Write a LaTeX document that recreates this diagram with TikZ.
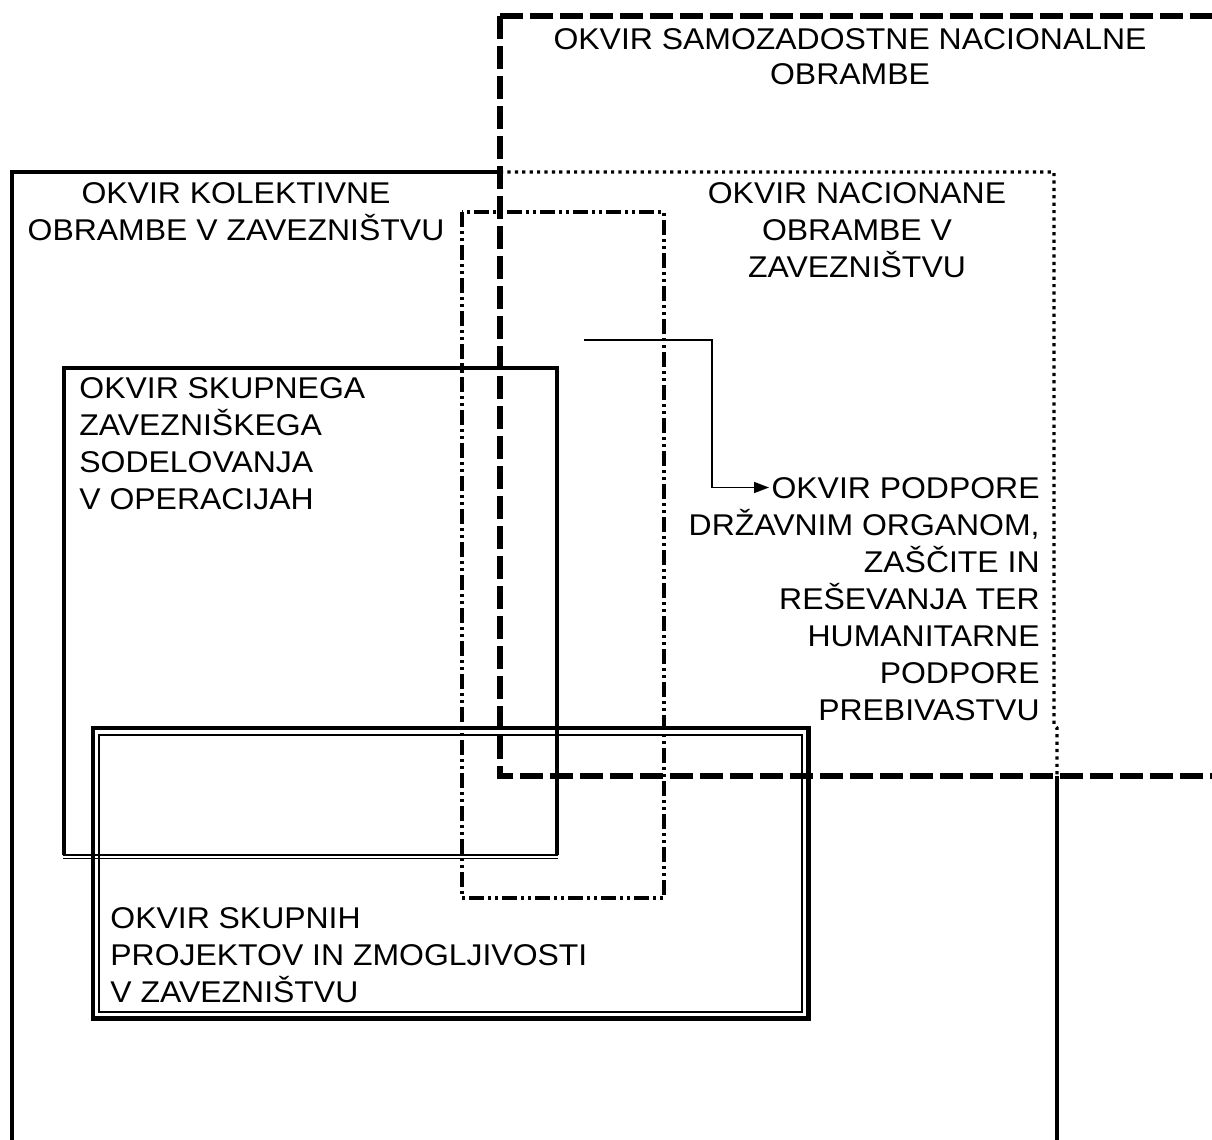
\documentclass[tikz,border=0pt]{standalone}
\usepackage{fontspec}
\setmainfont{Liberation Sans}[FakeStretch=1.065]
\usetikzlibrary{arrows.meta}
\begin{document}
\begin{tikzpicture}[x=0.5pt,y=-0.5pt,
  selfframe/.style={line width=3pt, dash pattern=on 11.5pt off 3.5pt},
  collframe/.style={line width=2.1pt},
  natframe/.style={line width=1.7pt, dash pattern=on 1.6pt off 2.1pt},
  jointframe/.style={line width=1.7pt,
    dash pattern=on 7.5pt off 2pt on 1.5pt off 2pt on 1.5pt off 2pt},
  opsframe/.style={line width=2.1pt},
  projouter/.style={line width=2.1pt},
  projinner/.style={line width=1pt},
  link/.style={line width=0.8pt, -{Triangle[length=7.5pt,width=5.5pt]}},
  label/.style={inner sep=0pt, font=\fontsize{15pt}{18.5pt}\selectfont}]
\useasboundingbox (0,0) rectangle (1212,1140);

% self-sufficient national defence (heavy dashes, open to the right)
\draw[selfframe] (500,16) -- (1212,16);
\draw[selfframe] (500,16) -- (500,776) -- (1212,776);

% collective defence in the alliance (solid)
\draw[collframe] (500,172) -- (12,172) -- (12,1140);
\draw[collframe] (1057,776) -- (1057,1140);

% national defence in the alliance (dotted)
\draw[natframe] (500,172) -- (1054,172) -- (1054,725) -- (1057,728) -- (1057,776);

% dash-dot-dot strip
\draw[jointframe] (462,212) rectangle (664,898);

% joint allied cooperation in operations
\draw[opsframe] (64,855) -- (64,368) -- (557,368) -- (557,855);
\draw[line width=1pt] (63,855) -- (558,855);
\draw[line width=0.7pt] (63,858.5) -- (558,858.5);

% joint projects and capabilities (double frame)
\draw[projouter] (93,728) rectangle (808.5,1018.5);
\draw[projinner] (99,734.5) rectangle (801.5,1011.5);

% texts
\node[label, anchor=north, align=center, font=\fontsize{15pt}{17.5pt}\selectfont]
  (samo) at (850,28) {OKVIR SAMOZADOSTNE NACIONALNE\\OBRAMBE};
\node[label, anchor=north, align=center] (kolek) at (236,182)
  {OKVIR KOLEKTIVNE\\OBRAMBE V ZAVEZNIŠTVU};
\node[label, anchor=north, align=center] (nacio) at (857,182)
  {OKVIR NACIONANE\\OBRAMBE V\\ZAVEZNIŠTVU};
\node[label, anchor=north east, align=right] (podpore) at (1040,477)
  {OKVIR PODPORE\\DRŽAVNIM ORGANOM,\\ZAŠČITE IN\\REŠEVANJA TER\\HUMANITARNE\\PODPORE\\PREBIVASTVU};
\node[label, anchor=north west, align=left] (skupnega) at (79,377)
  {OKVIR SKUPNEGA\\ZAVEZNIŠKEGA\\SODELOVANJA\\V OPERACIJAH};
\node[label, anchor=north west, align=left] (skupnih) at (110,907)
  {OKVIR SKUPNIH\\PROJEKTOV IN ZMOGLJIVOSTI\\V ZAVEZNIŠTVU};

% connector into the support frame
\coordinate (linkstart) at (584,340);
\coordinate (linkend) at (769,487.5);
\draw[link] (linkstart) -- ++(128,0) |- (linkend);
\end{tikzpicture}
\end{document}
